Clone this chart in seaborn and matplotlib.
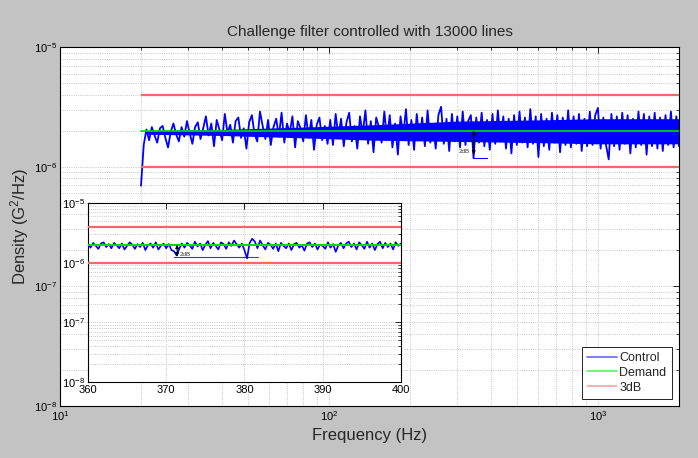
import numpy as np
import pandas as pd
import seaborn as sns
import matplotlib.pyplot as plt
from matplotlib.ticker import NullFormatter, MultipleLocator

# DATA ##################################################

demand_level = 2e-6     # G^2/Hz
abort_hi = 4e-6         # +3dB
abort_lo = 1e-6         # -3dB
f_start, f_end = 20, 2000

# control deviation from demand (dB), 20 -> 2000 Hz (log spaced)
ctrl_main_db = [
    -4.6, -1.2, 0.1, -0.8, 0.3, -0.4, -1.0, 0.2, 0.4, -0.6,
    -1.4, -0.1, 0.6, -0.3, -0.9, 0.3, -0.5, 0.8, -0.2, -1.1,
    0.3, 0.7, -0.7, 0.2,
    1.2, -0.4, 0.6, -1.3, 0.9, 0.1, -0.8, 1.4, -0.2, 0.5,
    -1.0, 0.8, 1.1, -0.6, 0.2, -1.5, 0.7, 1.3, -0.3, -0.9,
    1.6, 0.4, -0.7, 0.9, -1.2, 0.3, 1.0, -0.5, 1.5, -1.0,
    0.6, -0.2, 1.2, -1.4, 0.8, 0.2, -0.9, 1.3, -0.6, 0.9,
    -1.6, 0.5, 1.1, -0.8, 0.4, -1.1,
    0.9, -1.2, 1.4, -0.5, 1.0, -1.3, 0.7, 1.5, -0.9, 0.4,
    -1.5, 1.2, -0.3, 1.7, -1.1, 0.8, -1.8, 1.1, 0.3, -1.0,
    1.6, -0.7, 1.3, -1.4, 0.6, -2.0, 1.2, -0.4, 1.8, -1.2,
    0.9, -1.6, 1.4, -0.8, 1.1, -1.3, 1.7, -1.0, 0.5, -1.5,
    1.3, 2.0, -1.1, 1.0, -1.7, 1.4, -0.9, 1.2, -1.4, 1.6,
    -1.2, 0.8, 1.3, -2.3, 1.1, -1.0, 1.5, -1.3, 0.9, -1.6,
    1.4, -1.1, 1.7, -0.8, 1.2, -1.5, 1.0, -1.9, 1.3, -1.2,
    1.6, -1.0, 1.1, -1.4, 1.8, -1.1, 1.2, -2.2, 1.4, -1.3,
    1.0, -1.6, 1.5, -1.0, 1.3, -1.8, 1.1, -1.2, 1.7, -1.4,
    1.2, -1.1, 1.4, -1.7, 1.0, -1.3, 1.6, -1.2, 1.3, 1.9,
    -1.5, 1.1, -1.2, -2.4, 1.4, -1.3, 1.2, -1.6, 1.5, -1.1,
    1.3, -1.9, 1.0, -1.4, 1.6, -1.2, 1.4, -2.0, 1.2, -1.3,
    1.5, -1.5, 1.1, -1.7, 1.3, -1.2, 1.6, -1.4, 1.2, -1.3,
]

# core of the control trace, which gets solid as the line density goes up
band_freq = [21, 40, 80, 150, 300, 600, 1000, 2000]
band_hi_db = [0.0, 0.1, 0.3, 0.5, 0.8, 0.9, 1.0, 1.0]
band_lo_db = [-0.3, -0.4, -0.6, -0.8, -0.9, -1.0, -1.1, -1.1]

# zoom 360 -> 400 Hz, deviation from demand (dB)
inset_f0, inset_f1 = 360, 400
ctrl_inset_db = [
    0.2, -0.5, 0.3, -0.2, -0.7, 0.2, 0.4, -0.4, 0.1, -0.6,
    0.3, -0.1, -0.6, 0.2, -0.8, -0.2, 0.4, 0.0, -0.7, 0.1,
    -0.4, 0.3, -0.9, -0.1, 0.2, -0.5, 0.4, -0.8, -0.2, 0.2,
    -0.6, 0.1, -0.9, -1.1, -1.8, -0.7, 0.2, -0.5, 0.3, -0.1,
    -0.7, 0.5, -0.3, 0.2, -0.9, 0.0, 0.6, -0.6, 0.3, -0.2,
    -0.8, 0.4, 0.1, -0.7, 0.4, -0.2, 0.7, 0.1, -0.5, 0.2,
    -0.9, -2.3, 0.3, 1.0, 0.5, -0.6, 0.7, -0.1, -0.8, 0.3,
    0.0, -0.7, 0.2, -1.1, 0.3, -0.2, -0.6, 0.2, -0.9, 0.1,
    0.3, -0.5, -0.1, -1.0, 0.2, 0.4, -0.4, 0.2, -0.8, 0.0,
    -0.2, -0.7, 0.4, -0.5, 0.1, -1.2, -0.1, 0.3, -0.6, 0.2,
    0.5, -0.4, 0.2, -0.8, 0.4, -0.1, -0.7, 0.5, -0.5, 0.2,
    -0.9, 0.1, 0.5, -0.6, 0.3, -0.4, 0.2, -0.8, 0.4, -0.2, 0.2,
]

# 2dB markers
mark_db = -2.0
main_mark_f = 345
main_mark_line = [345, 385]
inset_mark_f = 371.4
inset_mark_line = [371, 381.7]

#########################################################

BLUE = '#0000ff'
GREEN = '#00dd00'
RED = '#f06a6a'
BG = '#c3c3c3'
GRID = '#b4b4b4'

sns.set_style('white')
plt.rcParams['font.family'] = ['Liberation Sans', 'DejaVu Sans']
plt.rcParams['mathtext.fontset'] = 'custom'
plt.rcParams['mathtext.rm'] = 'Liberation Sans'
plt.rcParams['mathtext.it'] = 'Liberation Sans:italic'


def db2psd(db):
    return demand_level * 10 ** (np.asarray(db) / 10.0)


def style_axes(ax, fs):
    ax.set_facecolor('white')
    for s in ax.spines.values():
        s.set_color('black')
        s.set_linewidth(0.8)
    ax.tick_params(which='both', direction='in', top=True, right=True,
                   colors='black', labelsize=fs, pad=2)
    ax.tick_params(which='major', length=4, width=0.6)
    ax.tick_params(which='minor', length=2, width=0.5)
    ax.grid(True, which='both', ls=':', color=GRID, lw=0.6)
    ax.set_axisbelow(True)


fig = plt.figure(figsize=(6.98, 4.58), dpi=100, facecolor=BG)

# main plot --------------------------------------------
ax = fig.add_axes([0.086, 0.1135, 0.8868, 0.7838])
ax.set_xscale('log')
ax.set_yscale('log')

df_main = pd.DataFrame({
    'freq': np.geomspace(f_start, f_end, len(ctrl_main_db)),
    'psd': db2psd(ctrl_main_db),
})
df_demand = pd.DataFrame({'freq': [f_start, f_end], 'psd': [demand_level] * 2})

ax.fill_between(band_freq, db2psd(band_lo_db), db2psd(band_hi_db),
                color=BLUE, lw=0, zorder=2)
sns.lineplot(data=df_main, x='freq', y='psd', color=BLUE, lw=1.3,
             estimator=None, sort=False, ax=ax, label='Control', zorder=3)
sns.lineplot(data=df_demand, x='freq', y='psd', color=GREEN, lw=1.2,
             estimator=None, ax=ax, label='Demand', zorder=4)
ax.hlines([abort_hi, abort_lo], f_start, f_end, color=RED, lw=1.6,
          label='3dB', zorder=4)

ax.annotate('', xy=(main_mark_f, db2psd(mark_db)), xytext=(main_mark_f, demand_level),
            arrowprops=dict(arrowstyle='<|-|>', color='black', lw=0.8,
                            mutation_scale=5, shrinkA=0, shrinkB=0), zorder=5)
ax.text(main_mark_f * 0.97, db2psd(mark_db * 0.85), '2dB', fontsize=4.5,
        ha='right', va='center', color='#333333', zorder=5)
ax.plot(main_mark_line, [db2psd(mark_db - 0.3)] * 2, color=BLUE, lw=0.8, zorder=5)

ax.set_xlim(10, f_end)
ax.set_ylim(1e-8, 1e-5)
ax.xaxis.set_minor_formatter(NullFormatter())
ax.yaxis.set_minor_formatter(NullFormatter())
style_axes(ax, 8)
ax.set_title('Challenge filter controlled with 13000 lines', fontsize=11, pad=8)
ax.set_xlabel('Frequency (Hz)', fontsize=12, labelpad=4)
ax.set_ylabel('Density (G$^2$/Hz)', fontsize=12, labelpad=2)

leg = ax.legend(loc='lower right', fontsize=9, frameon=True, fancybox=False,
                edgecolor='black', framealpha=1, borderaxespad=0.6,
                handlelength=2.4, handletextpad=0.2, labelspacing=0.22,
                borderpad=0.4)
leg.get_frame().set_linewidth(0.6)
for h in leg.legend_handles:
    h.set_alpha(0.6)
    h.set_linewidth(1.2)

# inset ------------------------------------------------
axi = fig.add_axes([0.126, 0.166, 0.4484, 0.3908])
axi.set_yscale('log')

df_inset = pd.DataFrame({
    'freq': np.linspace(inset_f0, inset_f1, len(ctrl_inset_db)),
    'psd': db2psd(ctrl_inset_db),
})
sns.lineplot(data=df_inset, x='freq', y='psd', color=BLUE, lw=1.2,
             estimator=None, ax=axi, zorder=3)
sns.lineplot(x=[inset_f0, inset_f1], y=[demand_level] * 2, color=GREEN, lw=1.4,
             estimator=None, ax=axi, zorder=4)
axi.hlines([abort_hi, abort_lo], inset_f0, inset_f1, color=RED, lw=1.6, zorder=4)

axi.annotate('', xy=(inset_mark_f, db2psd(mark_db)), xytext=(inset_mark_f, demand_level),
             arrowprops=dict(arrowstyle='<|-|>', color='black', lw=0.8,
                             mutation_scale=5, shrinkA=0, shrinkB=0), zorder=5)
axi.text(inset_mark_f + 0.3, db2psd(mark_db * 0.8), '2dB', fontsize=4.5,
         ha='left', va='center', color='#333333', zorder=5)
axi.plot(inset_mark_line, [db2psd(mark_db)] * 2, color=BLUE, lw=0.8, alpha=0.8, zorder=5)

axi.set_xlim(inset_f0, inset_f1)
axi.set_ylim(1e-8, 1e-5)
axi.xaxis.set_major_locator(MultipleLocator(10))
axi.yaxis.set_minor_formatter(NullFormatter())
axi.set_xlabel('')
axi.set_ylabel('')
style_axes(axi, 8)
axi.grid(True, which='major', axis='x', ls=':', color=GRID, lw=0.6)

plt.savefig('out.png', dpi=100, facecolor=BG)
